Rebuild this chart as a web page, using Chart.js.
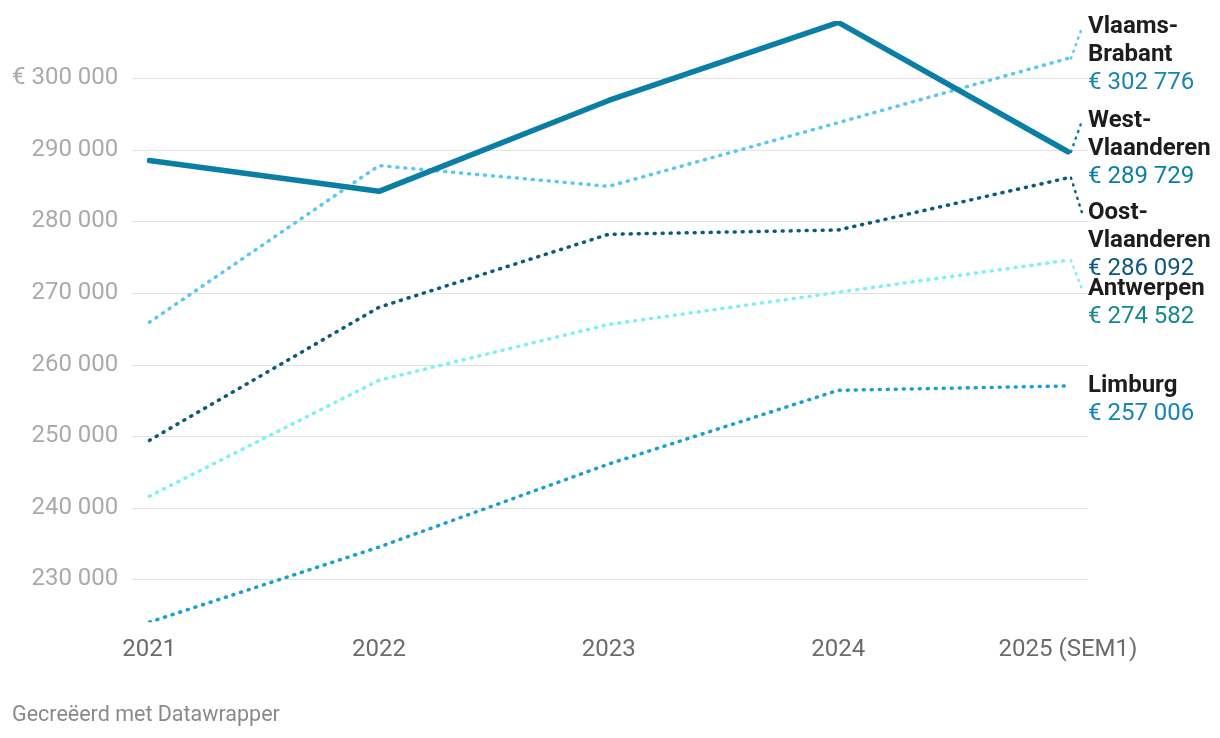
<!DOCTYPE html>
<html>
<head>
<meta charset="utf-8">
<script src="https://cdn.jsdelivr.net/npm/chart.js@4"></script>
<style>
  body { margin: 0; background: #fff; font-family: Roboto, sans-serif; }
  #wrap { position: relative; width: 1220px; height: 738px; }
  #caption { position: absolute; left: 12px; top: 701px; font-size: 21.5px; color: #8a8a8a; }
</style>
</head>
<body>
<div id="wrap">
  <canvas id="chart" width="1220" height="738"></canvas>
  <div id="caption">Gecreëerd met Datawrapper</div>
</div>
<script>
const years = ['2021', '2022', '2023', '2024', '2025 (SEM1)'];
const westVlaanderen = [288500, 284200, 296900, 307800, 289729];
const vlaamsBrabant = [265900, 287800, 284900, 293800, 302776];
const oostVlaanderen = [249400, 268000, 278200, 278800, 286092];
const antwerpen = [241600, 257800, 265600, 270100, 274582];
const limburg = [224000, 234500, 246100, 256400, 257006];
const yTicks = [230000, 240000, 250000, 260000, 270000, 280000, 290000, 300000];

function fmt(v) {
  return String(Math.round(v)).replace(/\B(?=(\d{3})+(?!\d))/g, ' ');
}

// label block per series: name lines, value colour, offset of first line from the end point
const endLabels = [
  { name: ['West-', 'Vlaanderen'], color: '#0b7ea6', dy: -31 },
  { name: ['Vlaams-', 'Brabant'], color: '#1a86ad', dy: -31 },
  { name: ['Oost-', 'Vlaanderen'], color: '#0b5a7a', dy: 35 },
  { name: ['Antwerpen'], color: '#17898e', dy: 29 },
  { name: ['Limburg'], color: '#1585b5', dy: 0 }
];

const gridPlugin = {
  id: 'grid',
  beforeDatasetsDraw(chart) {
    const { ctx, chartArea, scales } = chart;
    ctx.save();
    ctx.strokeStyle = '#e2e2e2';
    ctx.lineWidth = 1;
    yTicks.forEach(t => {
      const y = Math.round(scales.y.getPixelForValue(t)) + 0.5;
      ctx.beginPath();
      ctx.moveTo(chartArea.left - 17, y);
      ctx.lineTo(chartArea.right + 20, y);
      ctx.stroke();
    });
    ctx.restore();
  }
};

const labelPlugin = {
  id: 'endLabels',
  afterDatasetsDraw(chart) {
    const ctx = chart.ctx;
    const x = chart.chartArea.right + 20;
    ctx.save();
    chart.data.datasets.forEach((ds, i) => {
      const meta = chart.getDatasetMeta(i);
      const pt = meta.data[meta.data.length - 1];
      const lab = endLabels[i];
      const y0 = pt.y + lab.dy;
      if (lab.dy !== 0) {
        ctx.strokeStyle = ds.borderColor;
        ctx.lineWidth = 2.5;
        ctx.lineCap = 'round';
        ctx.setLineDash([1, 6]);
        ctx.beginPath();
        ctx.moveTo(pt.x + 3, pt.y);
        ctx.lineTo(x - 6, y0);
        ctx.stroke();
        ctx.setLineDash([]);
      }
      ctx.textBaseline = 'middle';
      ctx.textAlign = 'left';
      ctx.font = 'bold 24px Roboto';
      ctx.fillStyle = '#1d1d1d';
      lab.name.forEach((line, k) => ctx.fillText(line, x, y0 + k * 28));
      ctx.font = '24px Roboto';
      ctx.fillStyle = lab.color;
      ctx.fillText('€ ' + fmt(ds.data[ds.data.length - 1]), x, y0 + lab.name.length * 28);
    });
    ctx.restore();
  }
};

const dotted = { borderWidth: 3.5, borderDash: [1, 7], borderCapStyle: 'round', pointRadius: 0, tension: 0 };

new Chart(document.getElementById('chart'), {
  type: 'line',
  data: {
    labels: years,
    datasets: [
      { label: 'West-Vlaanderen', data: westVlaanderen, borderColor: '#0b7ea6', borderWidth: 5.5, pointRadius: 0, borderCapStyle: 'round', borderJoinStyle: 'round' },
      Object.assign({ label: 'Vlaams-Brabant', data: vlaamsBrabant, borderColor: '#5cc8ef' }, dotted),
      Object.assign({ label: 'Oost-Vlaanderen', data: oostVlaanderen, borderColor: '#0b5a7a' }, dotted),
      Object.assign({ label: 'Antwerpen', data: antwerpen, borderColor: '#7ef0f5' }, dotted),
      Object.assign({ label: 'Limburg', data: limburg, borderColor: '#1a9fd0' }, dotted)
    ]
  },
  options: {
    responsive: false,
    animation: false,
    layout: { padding: { left: 12, right: 152, top: 21, bottom: 69 } },
    plugins: { legend: { display: false }, tooltip: { enabled: false } },
    scales: {
      x: {
        offset: false,
        grid: { display: false },
        border: { display: false },
        ticks: { color: '#6b6b6b', font: { family: 'Roboto', size: 24 }, padding: 5, maxRotation: 0, autoSkip: false }
      },
      y: {
        min: 224000,
        max: 308000,
        grid: { display: true, drawOnChartArea: false, drawTicks: true, tickLength: 31, color: 'rgba(0,0,0,0)' },
        border: { display: false },
        afterBuildTicks: axis => { axis.ticks = yTicks.map(v => ({ value: v })); },
        ticks: {
          color: '#aaaaaa',
          font: { family: 'Roboto', size: 24 },
          padding: 0,
          callback: v => (v === 300000 ? '€ ' : '') + fmt(v)
        }
      }
    }
  },
  plugins: [gridPlugin, labelPlugin]
});
</script>
</body>
</html>
